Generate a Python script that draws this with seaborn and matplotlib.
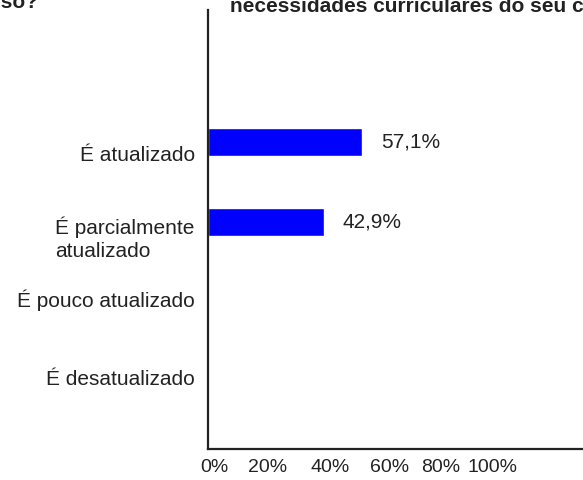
import matplotlib
matplotlib.use("Agg")
import matplotlib.pyplot as plt
import seaborn as sns
import pandas as pd

# data
categories = ['É atualizado', 'É parcialmente\natualizado', 'É pouco atualizado', 'É desatualizado']
percentages = [57.1, 42.9, 0.0, 0.0]
tick_labels = ['0%', '20%', '40%', '60%', '80%', '100%']

sns.set_theme(style='white')
plt.rcParams['font.family'] = ['Liberation Sans', 'DejaVu Sans']

df = pd.DataFrame({'Categoria': categories, 'Percentual': percentages})

W, H = 583, 480
fig = plt.figure(figsize=(W / 100, H / 100), dpi=100)
# axes: left spine at x=208px, bottom at y=449px, top at y=10px; runs off the right edge
ax = fig.add_axes([208 / W, (H - 449) / H, (600 - 208) / W, (449 - 10) / H])

sns.barplot(data=df, y='Categoria', x='Percentual', order=categories,
            orient='h', color='#0000ff', saturation=1, width=0.35, ax=ax)

ax.set_xlim(0, 392 / 2.7)
ax.set_ylim(3.84, -1.65)

# x tick labels sit a bit off the real scale in the reference
ax.set_xticks([2.2, 22.2, 45.2, 67.4, 86.3, 105.2])
ax.set_xticklabels(tick_labels, fontsize=14, color='#222222')

# category labels sit slightly below/above their bars
ax.set_yticks([0.14, 1.16, 1.95, 2.94])
ax.set_yticklabels(categories, fontsize=15, color='#222222', linespacing=1.3)
for lab in ax.get_yticklabels():
    lab.set_multialignment('left')

ax.tick_params(axis='both', length=0)
ax.tick_params(axis='y', pad=9.5)
ax.tick_params(axis='x', pad=7)
ax.set_xlabel('')
ax.set_ylabel('')

for side in ['top', 'right']:
    ax.spines[side].set_visible(False)
for side in ['left', 'bottom']:
    ax.spines[side].set_color('#222222')
    ax.spines[side].set_linewidth(1.6)
ax.grid(False)

for i, v in enumerate(percentages):
    if v > 0:
        ax.annotate(f"{v:.1f}%".replace('.', ','), xy=(v, i), xytext=(13.5, 0),
                    textcoords='offset points', va='center', ha='left',
                    fontsize=15, color='#222222')

# title pieces, cropped at the top of the image
fig.text(38 / W, 1 - 8 / H, 'do seu curso?', ha='right', va='baseline',
         fontsize=15, fontweight='bold', color='#222222')
fig.text(230 / W, 1 - 12 / H, 'necessidades curriculares do seu curso?', ha='left',
         va='baseline', fontsize=15, fontweight='bold', color='#222222')

fig.savefig('out.png', dpi=100)
